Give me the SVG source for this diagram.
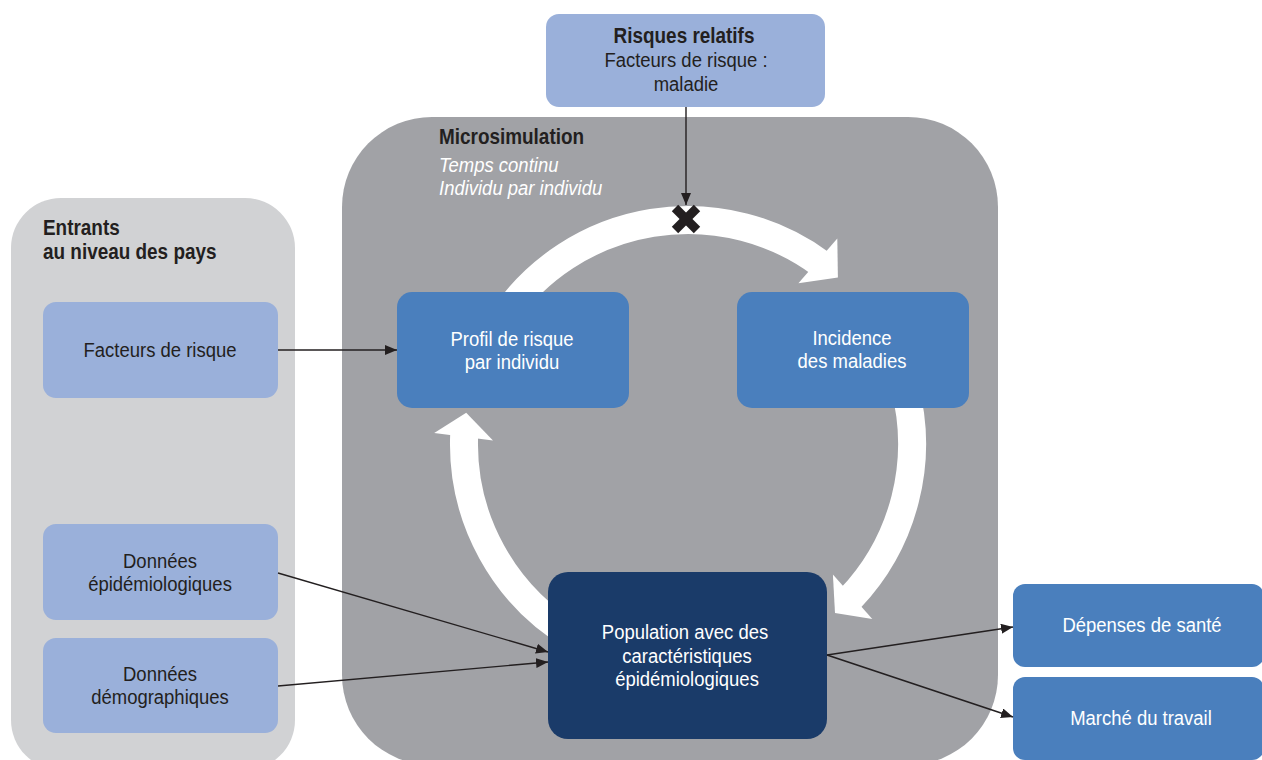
<svg xmlns="http://www.w3.org/2000/svg" width="1262" height="760" viewBox="0 0 1262 760">
  <style>
    .t { font-family: "Liberation Sans", Arial, sans-serif; font-size: 21px; text-anchor: middle; }
    .s { text-anchor: start; }
    .i { font-style: italic; }
    .dk { fill: #231f20; }
    .wh { fill: #ffffff; }
    .b { font-weight: bold; font-size: 21.5px; }
    .lb { fill: #9ab0da; }
    .mb { fill: #4a7fbd; }
    .nv { fill: #1a3b69; }
    .conn { stroke: #231f20; stroke-width: 1.4; fill: none; }
    .band { stroke: #ffffff; stroke-width: 28; fill: none; }
  </style>
  <defs>
    <marker id="ah" markerUnits="userSpaceOnUse" viewBox="0 0 12 10" refX="12" refY="5" markerWidth="12" markerHeight="10" orient="auto">
      <path d="M0,0 L12,5 L0,10 z" fill="#231f20"/>
    </marker>
  </defs>
  <rect width="1262" height="760" fill="#ffffff"/>

  <g id="panel-entrants">
    <rect x="11" y="198" width="284" height="572" rx="50" fill="#d1d2d4"/>
    <text class="t dk b s" transform="translate(43,235) scale(0.88,1)">Entrants</text>
    <text class="t dk b s" transform="translate(43,259) scale(0.88,1)">au niveau des pays</text>
  </g>

  <g id="panel-microsimulation">
    <rect x="342" y="117" width="656" height="648" rx="90" fill="#a1a2a6"/>
    <text class="t dk b s" transform="translate(439,144) scale(0.88,1)">Microsimulation</text>
    <text class="t wh s i" transform="translate(439,172) scale(0.88,1)">Temps continu</text>
    <text class="t wh s i" transform="translate(439,195) scale(0.88,1)">Individu par individu</text>
  </g>

  <g id="cycle">
    <path class="band" d="M504.5,315.5 A224,224 0 0 1 821.2,263.9"/>
    <polygon fill="#ffffff" points="798.4,283.3 837.3,238.5 837.9,277.5"/>
    <path class="band" d="M904.4,386 A224,224 0 0 1 850.5,598.2"/>
    <polygon fill="#ffffff" points="832.9,574.5 872.3,618.9 835,613.1"/>
    <path class="band" d="M576,638 A224,224 0 0 1 464.2,434.2"/>
    <polygon fill="#ffffff" points="493,440.6 434.2,432.9 466.2,412.8"/>
  </g>

  <g id="risques-relatifs">
    <rect class="lb" x="546" y="14" width="279" height="93" rx="13"/>
    <text class="t dk b" transform="translate(684,43) scale(0.88,1)">Risques relatifs</text>
    <text class="t dk" transform="translate(686,67) scale(0.88,1)">Facteurs de risque :</text>
    <text class="t dk" transform="translate(686,91) scale(0.88,1)">maladie</text>
  </g>

  <g id="facteurs-de-risque">
    <rect class="lb" x="43" y="302" width="235" height="96" rx="13"/>
    <text class="t dk" transform="translate(160,357) scale(0.88,1)">Facteurs de risque</text>
  </g>

  <g id="donnees-epidemiologiques">
    <rect class="lb" x="43" y="524" width="235" height="96" rx="13"/>
    <text class="t dk" transform="translate(160,568) scale(0.88,1)">Données</text>
    <text class="t dk" transform="translate(160,591) scale(0.88,1)">épidémiologiques</text>
  </g>

  <g id="donnees-demographiques">
    <rect class="lb" x="43" y="638" width="235" height="95" rx="13"/>
    <text class="t dk" transform="translate(160,681) scale(0.88,1)">Données</text>
    <text class="t dk" transform="translate(160,704) scale(0.88,1)">démographiques</text>
  </g>

  <g id="profil-de-risque">
    <rect class="mb" x="397" y="292" width="232" height="116" rx="15"/>
    <text class="t wh" transform="translate(512,346) scale(0.88,1)">Profil de risque</text>
    <text class="t wh" transform="translate(512,369) scale(0.88,1)">par individu</text>
  </g>

  <g id="incidence">
    <rect class="mb" x="737" y="292" width="232" height="116" rx="15"/>
    <text class="t wh" transform="translate(852,345) scale(0.88,1)">Incidence</text>
    <text class="t wh" transform="translate(852,368) scale(0.88,1)">des maladies</text>
  </g>

  <g id="population">
    <rect class="nv" x="548" y="572" width="279" height="167" rx="20"/>
    <text class="t wh" transform="translate(685,639) scale(0.88,1)">Population avec des</text>
    <text class="t wh" transform="translate(687,663) scale(0.88,1)">caractéristiques</text>
    <text class="t wh" transform="translate(687,686) scale(0.88,1)">épidémiologiques</text>
  </g>

  <g id="depenses-de-sante">
    <rect class="mb" x="1013" y="584" width="251" height="83" rx="12"/>
    <text class="t wh" transform="translate(1142,632) scale(0.88,1)">Dépenses de santé</text>
  </g>

  <g id="marche-du-travail">
    <rect class="mb" x="1013" y="677" width="251" height="83" rx="12"/>
    <text class="t wh" transform="translate(1141,725) scale(0.88,1)">Marché du travail</text>
  </g>

  <g id="connectors">
    <line class="conn" x1="686" y1="107" x2="686" y2="205" marker-end="url(#ah)"/>
    <line class="conn" x1="278" y1="350" x2="397" y2="350" marker-end="url(#ah)"/>
    <line class="conn" x1="278" y1="573" x2="548" y2="652" marker-end="url(#ah)"/>
    <line class="conn" x1="278" y1="686" x2="548" y2="662" marker-end="url(#ah)"/>
    <line class="conn" x1="827" y1="655" x2="1013" y2="627" marker-end="url(#ah)"/>
    <line class="conn" x1="827" y1="655" x2="1013" y2="717" marker-end="url(#ah)"/>
  </g>

  <g id="blocker-x">
    <line x1="675" y1="208" x2="697" y2="230" stroke="#231f20" stroke-width="9"/>
    <line x1="697" y1="208" x2="675" y2="230" stroke="#231f20" stroke-width="9"/>
  </g>
</svg>
